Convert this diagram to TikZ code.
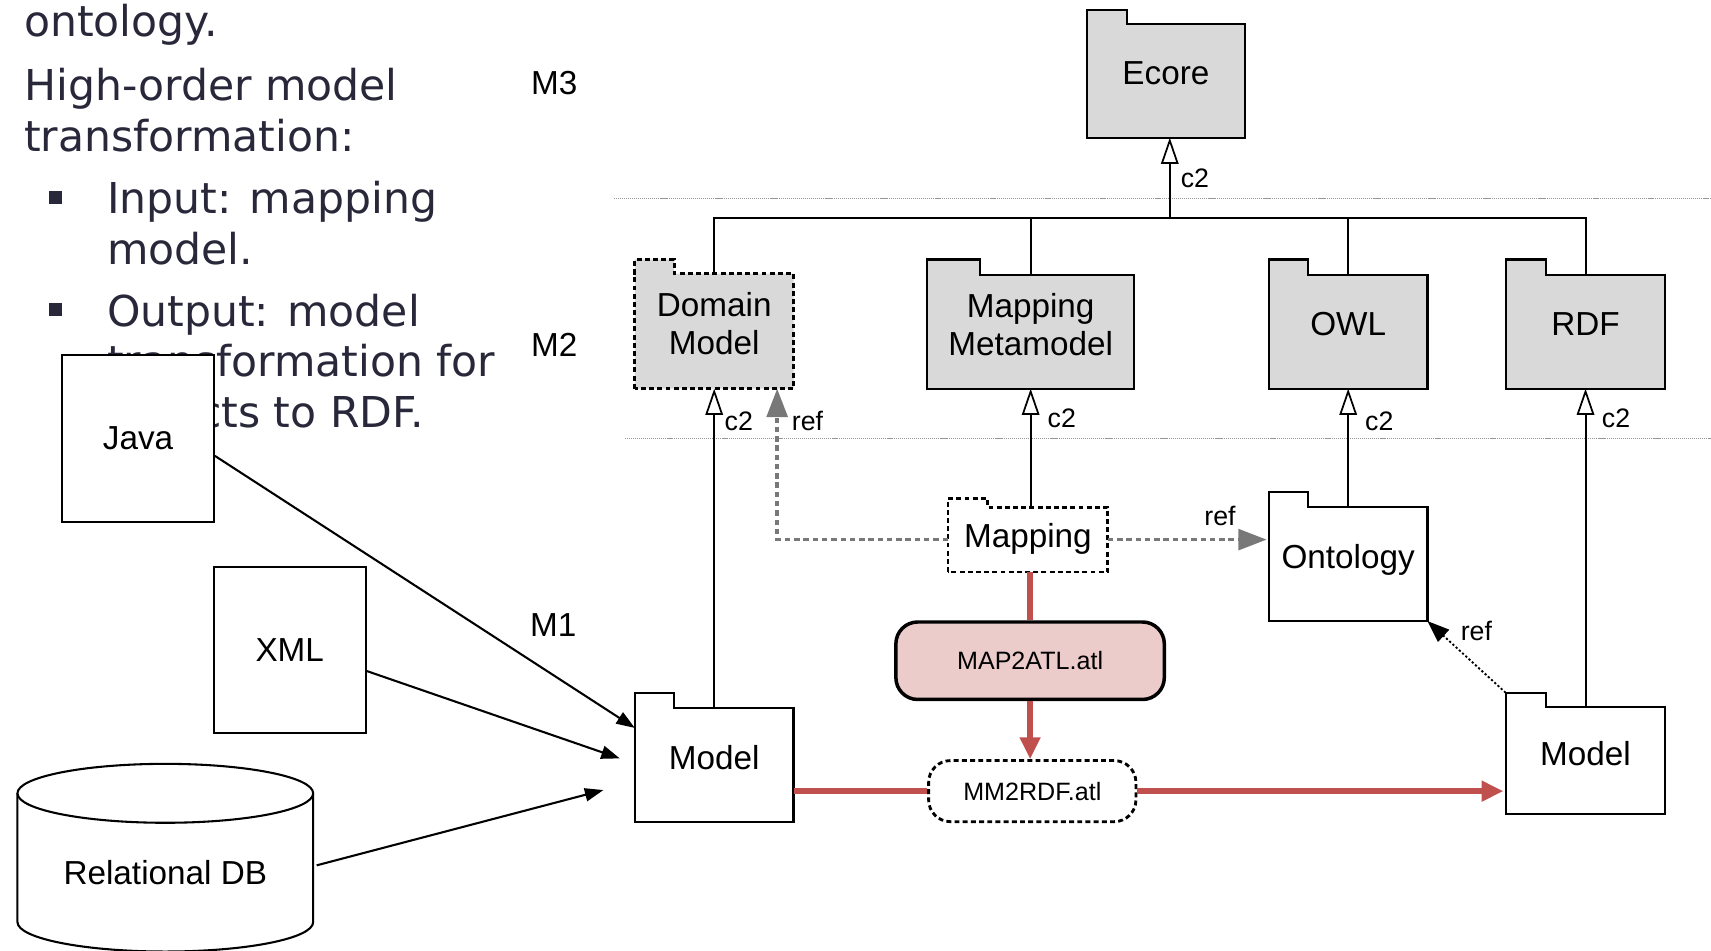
\documentclass[tikz,border=0pt]{standalone}
\usepackage{fontspec}
\setmainfont{Liberation Sans}
\newfontfamily\slidefont{DejaVu Sans}
\usetikzlibrary{arrows.meta,calc}
\definecolor{navy}{RGB}{40,40,58}
\definecolor{pkgfill}{RGB}{217,217,217}
\definecolor{redline}{RGB}{192,80,77}
\definecolor{pinkfill}{RGB}{236,203,203}
\definecolor{refgray}{RGB}{120,120,120}
\definecolor{levelgray}{RGB}{150,150,150}
\pgfdeclarelayer{background}
\pgfsetlayers{background,main}
\newcommand\pkgoutline[4]{%
 \begin{pgfonlayer}{background}
 \path[#1] (#2.south west) -- (#2.north west) -- ++(0,-#4) -- ++(#3,0) -- ++(0,#4) -- (#2.north east) -- (#2.south east) -- cycle;
 \end{pgfonlayer}}
\begin{document}
\begin{tikzpicture}[x=1pt,y=-1pt,
  every node/.style={inner sep=0pt, font=\fontsize{30.5}{35}\selectfont},
  slide/.style={anchor=base west, text=navy, font=\slidefont\fontsize{39}{47}\selectfont},
  pkgnode/.style={align=center},
  pkgsolid/.style={draw, line width=1.9pt, fill=pkgfill},
  pkgdash/.style={draw, line width=2.6pt, dash pattern=on 4.5pt off 3pt, fill=pkgfill},
  modsolid/.style={draw, line width=1.9pt, fill=white},
  moddash/.style={draw, line width=2.6pt, dash pattern=on 4.5pt off 3pt, fill=white},
  lbl/.style={font=\fontsize{24.5}{28}\selectfont},
  level/.style={levelgray, line width=1.3pt, dash pattern=on 1pt off 0.8pt},
  gen/.style={line width=1.8pt, -{Triangle[open,length=24pt,width=16pt,line width=1.6pt]}},
  refg/.style={refgray, line width=3.3pt, dash pattern=on 5pt off 3.5pt, -{Triangle[length=26pt,width=19pt]}},
  dotref/.style={line width=1.7pt, dash pattern=on 2pt off 2pt, -{Triangle[length=20pt,width=15pt]}},
  redl/.style={redline, line width=5pt},
  reda/.style={redl, -{Triangle[length=20pt,width=18pt]}},
  blk/.style={line width=1.9pt, -{Triangle[length=17pt,width=12pt]}},
  box/.style={draw, line width=1.9pt, fill=white}
]
\useasboundingbox (0,0) rectangle (1568,871);

% slide text
\node[slide] (t1) at (22,33) {ontology.};
\node[slide] (t2) at (22,92) {High-order model};
\node[slide] (t3) at (22,139) {transformation:};
\node[slide] (t4) at (98,196) {Input: mapping};
\node[slide] (t5) at (98,242) {model.};
\node[slide] (t6) at (98,299) {Output: model};
\node[slide] (t7) at (98,345) {transformation for};
\node[slide] (t8) at (98,392) {objects to RDF.};
\fill[navy] (45,175) rectangle (57,187);
\fill[navy] (45,278) rectangle (57,290);

% level labels and separators
\node (m3) at (508,76) {M3};
\node (m2) at (508,316) {M2};
\node (m1) at (507,573) {M1};
\draw[level] (563,182) -- (1568,182);
\draw[level] (573,402) -- (1568,402);

% M3 / M2 packages
\node[pkgnode, minimum width=145pt, minimum height=104pt, text depth=14pt] (ecore) at (1068.5,74) {Ecore};
\node[pkgnode, minimum width=145pt, minimum height=105pt, text depth=14pt] (dm) at (654.5,303.5) {Domain\\Model};
\node[pkgnode, minimum width=189pt, minimum height=104pt, text depth=14pt] (mmeta) at (944.5,304) {Mapping\\Metamodel};
\node[pkgnode, minimum width=145pt, minimum height=104pt, text depth=14pt] (owl) at (1235.5,304) {OWL};
\node[pkgnode, minimum width=146pt, minimum height=104pt, text depth=14pt] (rdf) at (1453,304) {RDF};
\pkgoutline{pkgsolid}{ecore}{37}{13}
\pkgoutline{pkgdash}{dm}{36}{13}
\pkgoutline{pkgsolid}{mmeta}{48}{14}
\pkgoutline{pkgsolid}{owl}{36}{14}
\pkgoutline{pkgsolid}{rdf}{37}{14}

% M1 packages
\node[pkgnode, minimum width=146pt, minimum height=59pt, text depth=8pt] (mapping) at (942,494.5) {Mapping};
\node[pkgnode, minimum width=145pt, minimum height=104pt, text depth=14pt] (onto) at (1235.5,517) {Ontology};
\node[pkgnode, minimum width=145pt, minimum height=104pt, text depth=14pt] (mleft) at (654.5,701) {Model};
\node[pkgnode, minimum width=146pt, minimum height=98pt, text depth=13pt] (mright) at (1453,697) {Model};
\pkgoutline{moddash}{mapping}{36}{8}
\pkgoutline{modsolid}{onto}{36}{14}
\pkgoutline{modsolid}{mleft}{36}{14}
\pkgoutline{modsolid}{mright}{37}{13}

% transformations
\node[draw, line width=3.2pt, fill=pinkfill, rounded corners=20pt, minimum width=246pt, minimum height=71pt, font=\fontsize{23}{27}\selectfont] (map2atl) at (944,605.5) {MAP2ATL.atl};
\node[draw, line width=2.6pt, dash pattern=on 4.5pt off 3pt, fill=white, rounded corners=20pt, minimum width=190pt, minimum height=56pt, font=\fontsize{23}{27}\selectfont] (mm) at (946,725) {MM2RDF.atl};

% conformance tree
\coordinate (trunk) at (1072,200);
\draw[line width=1.8pt] (dm.north) -- (dm.north |- trunk) -- (rdf.north |- trunk) -- (rdf.north);
\draw[line width=1.8pt] (mmeta.north) -- (mmeta.north |- trunk);
\draw[line width=1.8pt] (owl.north) -- (owl.north |- trunk);
\draw[gen] (trunk) -- (trunk |- ecore.south);
\node[lbl] (c2a) at (1095,163) {c2};

% c2 arrows M1 -> M2
\draw[gen] (mleft.north) -- (dm.south);
\node[lbl] (c2b) at (677,386) {c2};
\draw[gen] (mapping.north -| mmeta.south) -- (mmeta.south);
\node[lbl] (c2c) at (973,383) {c2};
\draw[gen] (onto.north) -- (owl.south);
\node[lbl] (c2d) at (1264,386) {c2};
\draw[gen] (mright.north) -- (rdf.south);
\node[lbl] (c2e) at (1481,383) {c2};

% ref links
\draw[refg] (mapping.west) -| ($(dm.south east)+(-15,0)$);
\node[lbl] (r1) at (740,386) {ref};
\draw[refg] (mapping.east) -- ($(mapping.east -| onto.west)+(-2,0)$);
\node[lbl] (r2) at (1118,473) {ref};
\draw[dotref] ($(mright.north west)+(0,-13)$) -- (onto.south east);
\node[lbl] (r3) at (1353,578) {ref};

% red flow
\draw[redl] (map2atl.north |- mapping.south) -- (map2atl.north);
\draw[reda] (map2atl.south) -- (map2atl.south |- mm.north);
\draw[redl] (mleft.east |- mm.west) -- (mm.west);
\draw[reda] (mm.east) -- ($(mm.east -| mright.west)+(-2,0)$);

% sources
\node[box, minimum width=139pt, minimum height=153pt] (java) at (126.5,401.5) {Java};
\node[box, minimum width=139pt, minimum height=152pt] (xml) at (265.5,596) {XML};
\fill[white] (16,727) -- (16,845) arc[start angle=180, end angle=360, x radius=135.5pt, y radius=27pt] -- (287,727) -- cycle;
\draw[line width=1.9pt] (16,727) -- (16,845) arc[start angle=180, end angle=360, x radius=135.5pt, y radius=27pt] -- (287,727);
\draw[line width=1.9pt, fill=white] (151.5,727) ellipse[x radius=135.5pt, y radius=27pt];
\node[minimum width=271pt] (db) at (151.5,800) {Relational DB};
\coordinate (xmlend) at (568,695);
\coordinate (dbend) at (553,724);
\draw[blk] (java.-13) -- (mleft.155);
\draw[blk] (xml.-15) -- (xmlend);
\draw[blk] ($(db.east)+(3,-7)$) -- (dbend);
\end{tikzpicture}
\end{document}
